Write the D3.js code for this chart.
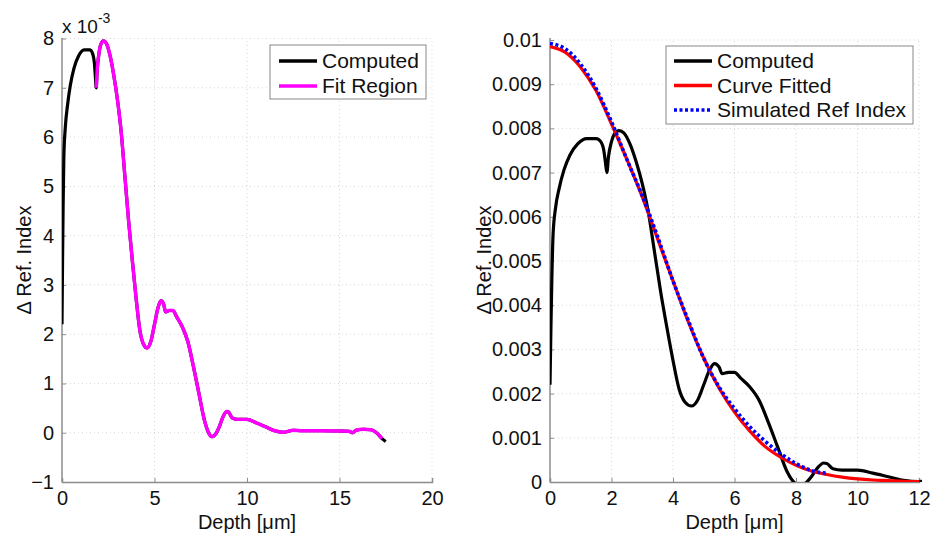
<!DOCTYPE html>
<html><head><meta charset="utf-8">
<script src="https://cdn.jsdelivr.net/npm/d3@7"></script>
<style>
body{margin:0;background:#fff;}
svg{display:block;font-family:Arial,"Liberation Sans",sans-serif;}
</style></head>
<body>
<svg id="c" width="932" height="537"></svg>
<script>
// Computed Δ refractive index (×1e-3) vs depth (µm)
const computedDepth = [0,0.03,0.06,0.1,0.18,0.3,0.45,0.65,0.9,1.2,1.5,1.65,1.75,1.8,1.85,1.9,2.0,2.1,2.25,2.4,2.6,2.8,3.0,3.2,3.4,3.6,3.8,4.0,4.2,4.4,4.6,4.8,5.0,5.2,5.35,5.5,5.6,5.8,6.0,6.2,6.5,6.8,7.1,7.4,7.7,7.9,8.1,8.3,8.5,8.7,8.9,9.0,9.2,9.5,10.0,10.5,11.0,11.5,12.0,12.5,13.0,14.0,15.0,15.5,15.7,15.9,16.3,16.7,17.0,17.3,17.5];
const computedVal   = [2.2,3.5,4.6,5.6,6.2,6.65,7.05,7.4,7.65,7.77,7.77,7.7,7.5,7.25,7.0,7.35,7.7,7.88,7.95,7.9,7.65,7.25,6.75,6.1,5.2,4.3,3.5,2.75,2.1,1.8,1.72,1.85,2.2,2.55,2.68,2.6,2.45,2.48,2.48,2.35,2.15,1.85,1.35,0.8,0.25,0.02,-0.08,-0.03,0.12,0.32,0.43,0.42,0.3,0.27,0.27,0.2,0.12,0.04,0.01,0.05,0.04,0.04,0.035,0.03,0.0,0.05,0.07,0.06,0.0,-0.12,-0.18];
const fitStart = 1.85, fitEnd = 17.3;
// Curve fitted (×1e-3)
const fittedDepth = [0,0.5,1,1.5,2,2.5,3,3.5,4,4.5,5,5.5,6,6.5,7,7.5,8,8.5,9,9.5,10,10.5,11,11.5,12];
const fittedVal   = [9.85,9.72,9.38,8.85,8.1,7.3,6.45,5.5,4.55,3.62,2.8,2.12,1.58,1.15,0.8,0.56,0.38,0.25,0.17,0.11,0.07,0.045,0.03,0.015,0.01];
// Simulated ref index (×1e-3)
const simDepth = [0,0.5,1,1.5,2,2.5,3,3.5,4,4.5,5,5.5,6,6.5,7,7.5,8,8.5,9];
const simVal   = [9.92,9.8,9.45,8.9,8.15,7.3,6.48,5.55,4.55,3.65,2.8,2.15,1.66,1.25,0.92,0.64,0.42,0.26,0.2];
const leftXTicks = [0,5,10,15,20];
const leftYTicks = [-1,0,1,2,3,4,5,6,7,8];
const rightXTicks = [0,2,4,6,8,10,12];
const rightYTicks = [0,0.001,0.002,0.003,0.004,0.005,0.006,0.007,0.008,0.009,0.01];
const leftLegend = ["Computed","Fit Region"];
const rightLegend = ["Computed","Curve Fitted","Simulated Ref Index"];

const svg = d3.select("#c");
const axisColor = "#8c8c8c";
const fs = 20;

const computed = computedDepth.map((d,i)=>({x:d,y:computedVal[i]}));
const fitted = fittedDepth.map((d,i)=>({x:d,y:fittedVal[i]}));
const sim = simDepth.map((d,i)=>({x:d,y:simVal[i]}));

function drawPanel(o){
  const g = svg.append("g");
  const x = d3.scaleLinear().domain(o.xd).range([o.x0,o.x1]);
  const y = d3.scaleLinear().domain(o.yd).range([o.y0,o.y1]);
  o.xt.forEach(t=>{ if(t!==o.xd[0]) g.append("line").attr("x1",x(t)).attr("x2",x(t)).attr("y1",o.y0).attr("y2",o.yTop).attr("stroke","#d8d8d8").attr("stroke-dasharray","1,3");});
  o.yt.forEach(t=>{ if(t!==o.yd[0]) g.append("line").attr("x1",o.x0).attr("x2",o.x1).attr("y1",y(t)).attr("y2",y(t)).attr("stroke","#d8d8d8").attr("stroke-dasharray","1,3");});
  const clipId = "clip"+o.id;
  svg.append("clipPath").attr("id",clipId).append("rect").attr("x",o.x0).attr("y",o.yTop-3).attr("width",o.x1-o.x0+3).attr("height",o.y0-o.yTop+3);
  const xa = d3.axisBottom(x).tickValues(o.xt).tickSize(-4).tickPadding(9).tickFormat(o.xf||d3.format("d"));
  const ya = d3.axisLeft(y).tickValues(o.yt).tickSize(-4).tickPadding(8).tickFormat(o.yf);
  const gx = g.append("g").attr("transform",`translate(0,${o.y0})`).call(xa);
  const gy = g.append("g").attr("transform",`translate(${o.x0},0)`).call(ya);
  [gx,gy].forEach(a=>{
    a.select(".domain").attr("stroke",axisColor).attr("stroke-width",1.5);
    a.selectAll(".tick line").attr("stroke",axisColor);
    a.selectAll(".tick text").attr("fill","#111").style("font-size",fs+"px");
  });
  gy.select(".domain").attr("d",`M0,${o.y0}V${o.yTop}`);
  g.append("text").attr("x",(o.x0+o.x1)/2).attr("y",529).attr("text-anchor","middle").style("font-size",fs+"px").attr("fill","#111").text("Depth [μm]");
  g.append("text").attr("transform",`translate(${o.ylx},${(o.y0+o.yTop)/2}) rotate(-90)`).attr("text-anchor","middle").attr("dy","0.35em").style("font-size",fs+"px").attr("fill","#111").text("Δ Ref. Index");
  const plot = g.append("g").attr("clip-path",`url(#${clipId})`);
  return {g,x,y,plot};
}

// Left panel
const L = drawPanel({id:"L",xd:[0,20],yd:[-1,8],x0:62,x1:432,y0:482,y1:38.5,yTop:38,xt:leftXTicks,yt:leftYTicks,yf:d3.format("d"),ylx:24});
const lineL = d3.line().x(d=>L.x(d.x)).y(d=>L.y(d.y)).curve(d3.curveMonotoneX);
L.plot.append("path").datum(computed).attr("d",lineL).attr("fill","none").attr("stroke","#000").attr("stroke-width",3.2);
L.plot.append("path").datum(computed.filter(d=>d.x>=fitStart && d.x<=fitEnd)).attr("d",lineL).attr("fill","none").attr("stroke","#ff00ff").attr("stroke-width",3.4);
const mult = L.g.append("text").attr("x",62).attr("y",33).style("font-size","19px").attr("fill","#111");
mult.append("tspan").text("x 10");
mult.append("tspan").attr("dy",-10).style("font-size","14px").text("-3");
const lg = L.g.append("g");
lg.append("rect").attr("x",270).attr("y",45).attr("width",156).attr("height",54).attr("fill","#fff").attr("stroke","#888").attr("stroke-width",1);
const lcol = ["#000","#ff00ff"];
leftLegend.forEach((t,i)=>{
  const yy = 61+i*25;
  lg.append("line").attr("x1",279).attr("x2",317).attr("y1",yy).attr("y2",yy).attr("stroke",lcol[i]).attr("stroke-width",3.4);
  lg.append("text").attr("x",322).attr("y",yy).attr("dy","0.35em").style("font-size","21px").attr("fill","#111").text(t);
});

// Right panel
const R = drawPanel({id:"R",xd:[0,12],yd:[0,0.01],x0:550,x1:919,y0:482,y1:40,yTop:38,xt:rightXTicks,yt:rightYTicks,yf:d=>d===0?"0":d3.format(".3~f")(d),ylx:484});
const lineR = d3.line().x(d=>R.x(d.x)).y(d=>R.y(d.y/1000)).curve(d3.curveMonotoneX);
svg.append("clipPath").attr("id","clipR2").append("rect").attr("x",550).attr("y",30).attr("width",372).attr("height",452);
const rc = R.g.append("g").attr("clip-path","url(#clipR2)");
rc.append("path").datum(computed.filter(d=>d.x<=12.5)).attr("d",lineR).attr("fill","none").attr("stroke","#000").attr("stroke-width",3.2);
rc.append("path").datum(fitted).attr("d",lineR).attr("fill","none").attr("stroke","#ff0000").attr("stroke-width",3.2);
rc.append("path").datum(sim).attr("d",lineR).attr("fill","none").attr("stroke","#0000ff").attr("stroke-width",3.6).attr("stroke-dasharray","3,2.5");
const rg = R.g.append("g");
rg.append("rect").attr("x",666).attr("y",46).attr("width",247).attr("height",78).attr("fill","#fff").attr("stroke","#888").attr("stroke-width",1);
const rcol = ["#000","#ff0000","#0000ff"];
rightLegend.forEach((t,i)=>{
  const yy = 61+i*24.5;
  const ln = rg.append("line").attr("x1",674).attr("x2",712).attr("y1",yy).attr("y2",yy).attr("stroke",rcol[i]).attr("stroke-width",3.4);
  if(i===2) ln.attr("stroke-dasharray","3,2.5");
  rg.append("text").attr("x",717).attr("y",yy).attr("dy","0.35em").style("font-size","21px").attr("fill","#111").text(t);
});
</script>
</body></html>
